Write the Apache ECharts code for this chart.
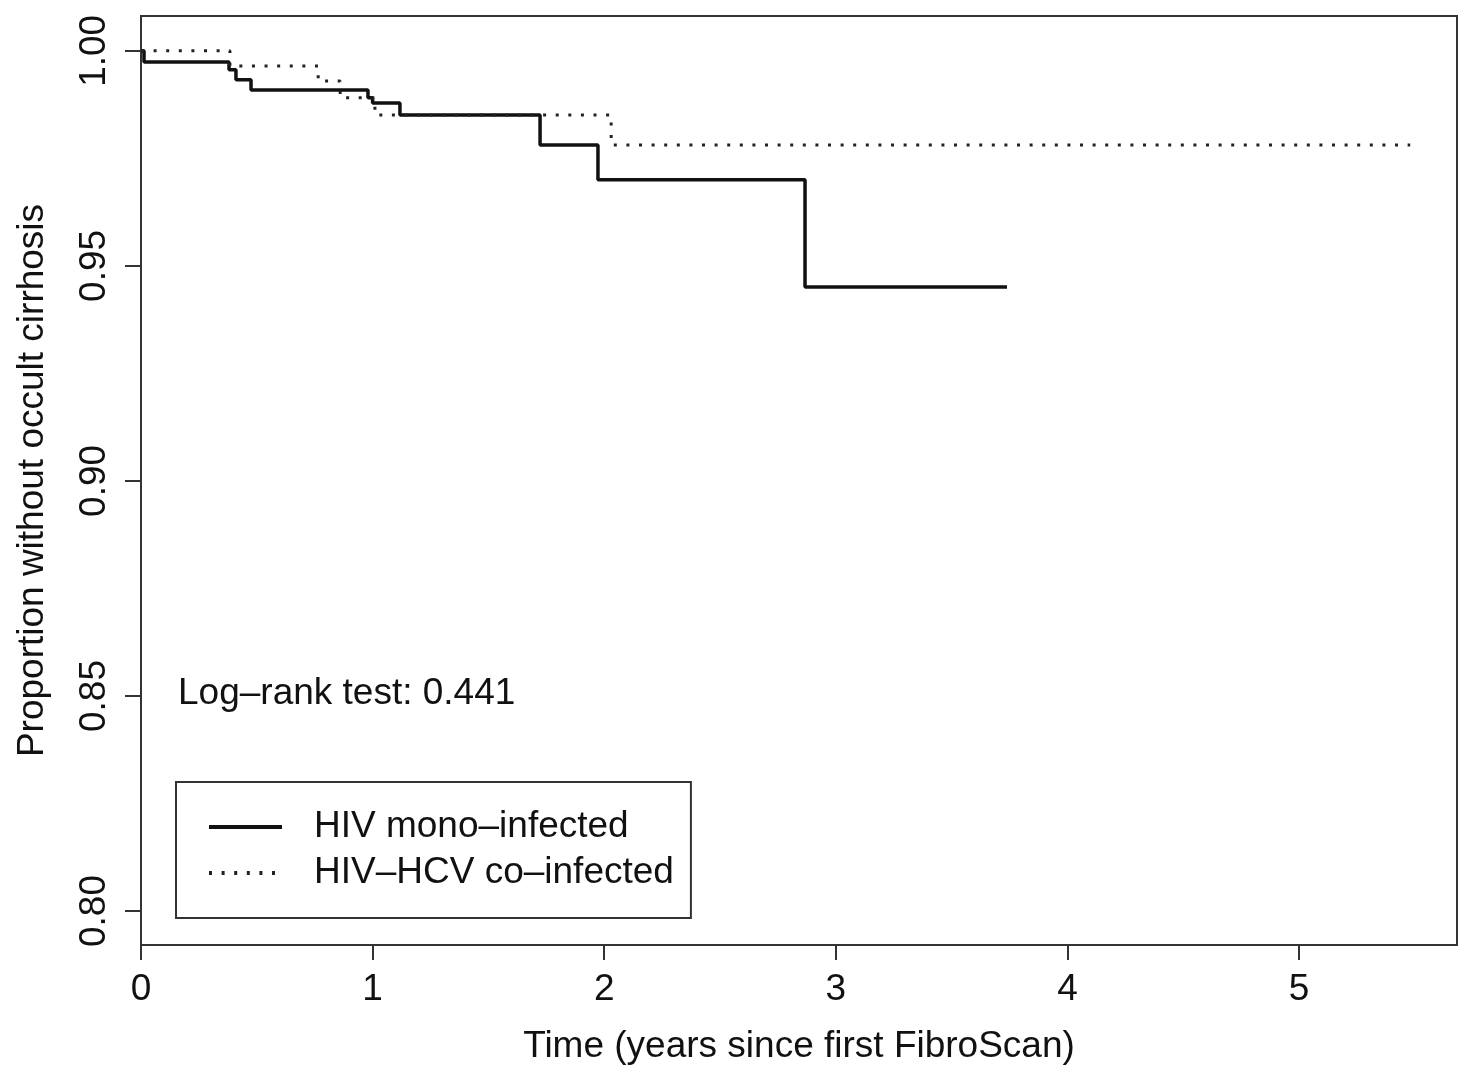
<!DOCTYPE html>
<html>
<head>
<meta charset="utf-8">
<script src="https://cdn.jsdelivr.net/npm/echarts@6/dist/echarts.min.js"></script>
<style>
  html, body { margin: 0; padding: 0; background: #fff; }
  #chart { width: 1459px; height: 1078px; }
</style>
</head>
<body>
<div id="chart"></div>
<script>
// Kaplan-Meier steps (time in years, survival proportion)
const monoTimes = [0, 0.013, 0.38, 0.41, 0.475, 0.98, 1.00, 1.118, 1.723, 1.973, 2.867, 3.739];
const monoSurv  = [1.0, 0.9974, 0.9956, 0.9933, 0.9909, 0.9891, 0.9879, 0.9851, 0.9781, 0.9700, 0.9451, 0.9451];

const coTimes = [0, 0.384, 0.765, 0.86, 1.01, 2.03, 5.48];
const coSurv  = [1.0, 0.9965, 0.9930, 0.9891, 0.9851, 0.9781, 0.9781];

const xTicks = [0, 1, 2, 3, 4, 5];
const yTicks = [0.80, 0.85, 0.90, 0.95, 1.00];

const seriesNames = ['HIV mono\u2013infected', 'HIV\u2013HCV co\u2013infected'];
const noteText = 'Log\u2013rank test: 0.441';

const FONT = '"Liberation Sans", Arial, sans-serif';
const INK = '#111';

function pairs (xs, ys) {
  return xs.map((x, i) => [x, ys[i]]);
}

const chart = echarts.init(document.getElementById('chart'));

chart.setOption({
  animation: false,
  backgroundColor: '#fff',
  textStyle: { fontFamily: FONT, color: INK },
  grid: {
    left: 141,
    top: 16,
    width: 1316,
    height: 929,
    show: true,
    borderColor: '#333',
    borderWidth: 2
  },
  xAxis: {
    type: 'value',
    min: 0,
    max: 5.682,
    name: 'Time (years since first FibroScan)',
    nameLocation: 'middle',
    nameGap: 83,
    nameTextStyle: { fontSize: 37, color: INK, fontFamily: FONT },
    splitLine: { show: false },
    axisLine: { show: true, lineStyle: { color: '#333', width: 2 } },
    axisTick: { show: true, length: 15, customValues: xTicks, lineStyle: { color: '#333', width: 2 } },
    axisLabel: { customValues: xTicks, fontSize: 37, color: INK, margin: 26, fontFamily: FONT }
  },
  yAxis: {
    type: 'value',
    min: 0.7921,
    max: 1.0081,
    name: 'Proportion without occult cirrhosis',
    nameLocation: 'middle',
    nameRotate: 90,
    nameGap: 90,
    nameTextStyle: { fontSize: 37, color: INK, fontFamily: FONT },
    splitLine: { show: false },
    axisLine: { show: true, lineStyle: { color: '#333', width: 2 } },
    axisTick: { show: true, length: 16, customValues: yTicks, lineStyle: { color: '#333', width: 2 } },
    axisLabel: {
      customValues: yTicks,
      rotate: 90,
      fontSize: 37,
      color: INK,
      margin: 28,
      fontFamily: FONT,
      formatter: v => v.toFixed(2)
    }
  },
  legend: {
    left: 176,
    top: 782,
    orient: 'vertical',
    borderColor: '#333',
    borderWidth: 2,
    borderRadius: 0,
    padding: [22, 17, 22, 31],
    itemGap: 0,
    itemWidth: 73,
    itemHeight: 14,
    itemStyle: { opacity: 0 },
    lineStyle: { width: 4 },
    textStyle: { fontSize: 37, color: INK, lineHeight: 46, padding: [0, 0, 0, 27], fontFamily: FONT },
    data: seriesNames
  },
  graphic: [{
    type: 'text',
    left: 178,
    top: 675,
    style: { text: noteText, font: '37px ' + FONT, fill: INK }
  }],
  series: [
    {
      name: seriesNames[0],
      type: 'line',
      step: 'end',
      symbol: 'none',
      color: '#111',
      lineStyle: { color: '#111', width: 3.5 },
      data: pairs(monoTimes, monoSurv)
    },
    {
      name: seriesNames[1],
      type: 'line',
      step: 'end',
      symbol: 'none',
      color: '#222',
      lineStyle: { color: '#222', width: 3, type: [3, 9.6] },
      data: pairs(coTimes, coSurv)
    }
  ]
});
</script>
</body>
</html>
